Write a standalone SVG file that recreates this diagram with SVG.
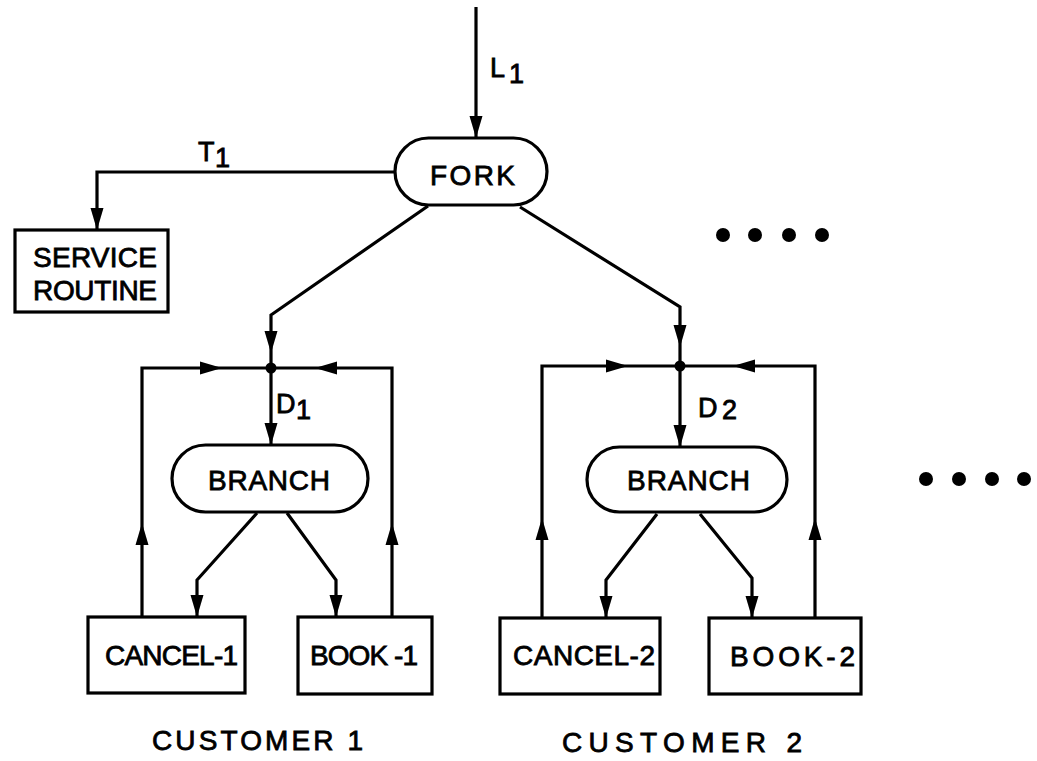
<svg xmlns="http://www.w3.org/2000/svg" xmlns:xlink="http://www.w3.org/1999/xlink" width="1037" height="761" viewBox="0 0 1037 761">
  <style>
    .box { fill: #fff; stroke: #000; stroke-width: 3.2; }
    .wire { fill: none; stroke: #000; stroke-width: 3.2; stroke-linejoin: miter; }
    .lbl { font-family: "Liberation Sans", Arial, sans-serif; font-size: 28px; fill: #000; stroke: #000; stroke-width: 0.8; }
    .sub { font-family: "Liberation Sans", Arial, sans-serif; font-size: 27px; fill: #000; stroke: #000; stroke-width: 0.8; }
    .dot { fill: #000; }
  </style>
  <defs>
    <!-- arrowhead pointing along +x, tip at origin -->
    <path id="ah" d="M0,0 L-22,-6.5 L-22,6.5 Z" fill="#000"/>
  </defs>

  <!-- connectors -->
  <g id="connectors">
    <path class="wire" d="M476,7 V138"/>
    <use xlink:href="#ah" transform="translate(476,138) rotate(90)"/>

    <path class="wire" d="M395,172 H97 V230"/>
    <use xlink:href="#ah" transform="translate(97,230) rotate(90)"/>

    <path class="wire" d="M428,206 L271,315 V368"/>
    <use xlink:href="#ah" transform="translate(271,353) rotate(90)"/>

    <path class="wire" d="M520,207 L680,307 V366"/>
    <use xlink:href="#ah" transform="translate(680,347) rotate(90)"/>

    <!-- customer 1 loop -->
    <path class="wire" d="M142,617 V368 H392 V617"/>
    <use xlink:href="#ah" transform="translate(222,368)"/>
    <use xlink:href="#ah" transform="translate(315,368) rotate(180)"/>
    <use xlink:href="#ah" transform="translate(142,523) rotate(-90)"/>
    <use xlink:href="#ah" transform="translate(392,523) rotate(-90)"/>
    <circle class="dot" cx="271" cy="368" r="5.5"/>
    <path class="wire" d="M271,368 V445"/>
    <use xlink:href="#ah" transform="translate(271,445) rotate(90)"/>
    <path class="wire" d="M257,513 L197,580 V617"/>
    <use xlink:href="#ah" transform="translate(197,617) rotate(90)"/>
    <path class="wire" d="M287,513 L336,580 V617"/>
    <use xlink:href="#ah" transform="translate(336,617) rotate(90)"/>

    <!-- customer 2 loop -->
    <path class="wire" d="M542,618 V366 H815 V618"/>
    <use xlink:href="#ah" transform="translate(628,366)"/>
    <use xlink:href="#ah" transform="translate(733,366) rotate(180)"/>
    <use xlink:href="#ah" transform="translate(542,518) rotate(-90)"/>
    <use xlink:href="#ah" transform="translate(815,518) rotate(-90)"/>
    <circle class="dot" cx="680" cy="366" r="5.5"/>
    <path class="wire" d="M680,366 V447"/>
    <use xlink:href="#ah" transform="translate(680,447) rotate(90)"/>
    <path class="wire" d="M657,514 L606,580 V618"/>
    <use xlink:href="#ah" transform="translate(606,618) rotate(90)"/>
    <path class="wire" d="M700,514 L752,578 V618"/>
    <use xlink:href="#ah" transform="translate(752,618) rotate(90)"/>

    <!-- edge labels -->
    <text class="sub" x="490" y="77">L</text>
    <text class="sub" x="509" y="83" font-size="22">1</text>
    <text class="sub" x="198" y="161">T</text>
    <text class="sub" x="215" y="167" font-size="22">1</text>
    <text class="sub" x="276" y="413">D</text>
    <text class="sub" x="296" y="419" font-size="22">1</text>
    <text class="sub" x="698" y="417">D</text>
    <text class="sub" x="722" y="419" font-size="24">2</text>
  </g>

  <g id="fork">
    <rect class="box" x="395" y="138" width="152" height="67" rx="33.5"/>
    <text class="lbl" x="430" y="185" textLength="85">FORK</text>
  </g>

  <g id="service-routine">
    <rect class="box" x="15" y="230" width="153" height="82"/>
    <text class="lbl" x="33" y="267" textLength="124">SERVICE</text>
    <text class="lbl" x="33" y="300" textLength="124">ROUTINE</text>
  </g>

  <g id="branch-1">
    <rect class="box" x="172" y="445" width="196" height="67" rx="33.5"/>
    <text class="lbl" x="208" y="490" textLength="122">BRANCH</text>
  </g>
  <g id="cancel-1">
    <rect class="box" x="88" y="617" width="157" height="76"/>
    <text class="lbl" x="105" y="665" textLength="133">CANCEL-1</text>
  </g>
  <g id="book-1">
    <rect class="box" x="298" y="617" width="134" height="77"/>
    <text class="lbl" x="310" y="665" textLength="108">BOOK -1</text>
  </g>

  <g id="branch-2">
    <rect class="box" x="587" y="447" width="200" height="65" rx="32.5"/>
    <text class="lbl" x="627" y="490" textLength="123">BRANCH</text>
  </g>
  <g id="cancel-2">
    <rect class="box" x="500" y="618" width="160" height="76"/>
    <text class="lbl" x="513" y="665" textLength="142">CANCEL-2</text>
  </g>
  <g id="book-2">
    <rect class="box" x="709" y="618" width="152" height="76"/>
    <text class="lbl" x="730" y="666" textLength="125">BOOK-2</text>
  </g>

  <g id="captions">
    <text class="lbl" x="152" y="750" textLength="211">CUSTOMER 1</text>
    <text class="lbl" x="562" y="752" textLength="240">CUSTOMER 2</text>
  </g>

  <g id="ellipses">
    <circle class="dot" cx="723" cy="235" r="7"/>
    <circle class="dot" cx="755" cy="235" r="7"/>
    <circle class="dot" cx="789" cy="235" r="7"/>
    <circle class="dot" cx="822" cy="235" r="7"/>
    <circle class="dot" cx="926" cy="479" r="7"/>
    <circle class="dot" cx="959" cy="479" r="7"/>
    <circle class="dot" cx="992" cy="479" r="7"/>
    <circle class="dot" cx="1024" cy="479" r="7"/>
  </g>
</svg>
